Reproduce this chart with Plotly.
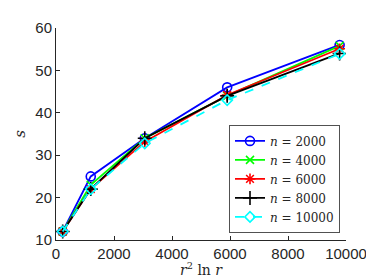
import numpy as np
import plotly.graph_objects as go

x_vals = [230.26, 1198.3, 3061.1, 5902.3, 9780.1]
labels = ["2000", "4000", "6000", "8000", "10000"]
s_2000 = [12, 25, 34, 46, 56]
s_4000 = [12, 23, 34, 44, 55.8]
s_6000 = [12, 22, 33.2, 44.2, 55.1]
s_8000 = [12, 22, 34, 44, 54]
s_10000 = [12, 22, 32.8, 43, 53.9]
series = [s_2000, s_4000, s_6000, s_8000, s_10000]
x_ticks = [0, 2000, 4000, 6000, 8000, 10000]
y_ticks = [10, 20, 30, 40, 50, 60]

colors = ["#0000ff", "#00ff00", "#ff0000", "#000000", "#00ffff"]
symbols = ["circle-open", "x-thin-open", "asterisk-open", "cross-thin-open", "diamond-open"]
dashes = ["solid", "solid", "solid", "solid", "dash"]
sizes = [9, 8, 9, 10, 8]

fig = go.Figure()
for lab, ys, c, sym, d, sz in zip(labels, series, colors, symbols, dashes, sizes):
    fig.add_trace(go.Scatter(
        x=x_vals, y=ys, mode="lines+markers",
        name="<i>n</i> = " + lab,
        line=dict(color=c, width=1.8, dash=d),
        marker=dict(symbol=sym, size=sz, color=c, line=dict(color=c, width=1.6)),
    ))

axis_common = dict(
    showline=True, linecolor="#262626", linewidth=1,
    ticks="inside", ticklen=4, tickcolor="#262626",
    showgrid=False, zeroline=False, mirror=False,
    tickfont=dict(family="Liberation Sans, Arial", size=15, color="#262626"),
)
fig.update_xaxes(range=[0, 10000], tickvals=x_ticks, ticktext=[str(t) for t in x_ticks],
                 **axis_common)
fig.update_yaxes(range=[10, 60], tickvals=y_ticks, ticktext=[str(t) for t in y_ticks],
                 title=dict(text="<i>s</i>", standoff=6,
                            font=dict(family="DejaVu Serif, serif", size=15, color="#262626")),
                 **axis_common)

fig.add_annotation(text="<i>r</i><sup>2</sup> ln <i>r</i>", xref="paper", yref="paper",
                   x=0.5, y=0, yshift=-29, xanchor="center", yanchor="middle",
                   showarrow=False,
                   font=dict(family="DejaVu Serif, serif", size=14, color="#262626"))

fig.update_layout(
    width=374, height=278,
    margin=dict(l=48, r=36, t=20, b=46),
    plot_bgcolor="white", paper_bgcolor="white",
    legend=dict(x=0.98, y=0.035, xanchor="right", yanchor="bottom",
                bgcolor="white", bordercolor="#262626", borderwidth=0.8,
                font=dict(family="DejaVu Serif, serif", size=12, color="#262626"),
                itemwidth=30, tracegroupgap=0),
)
fig.write_html("out.html")
